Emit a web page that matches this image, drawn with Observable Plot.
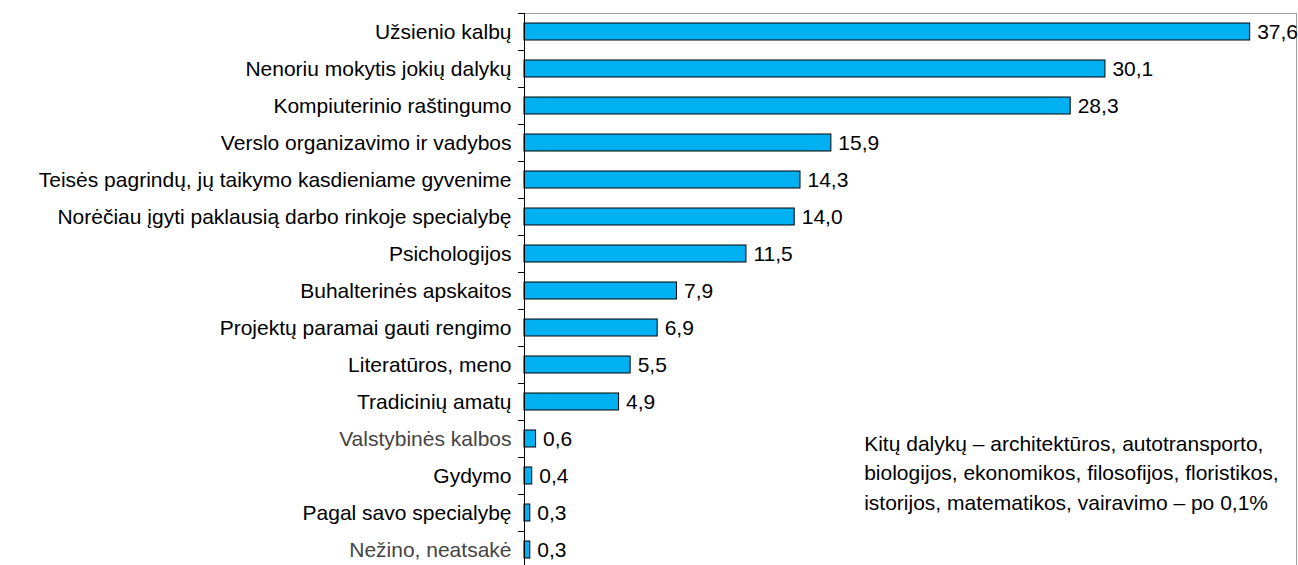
<!DOCTYPE html>
<html>
<head>
<meta charset="utf-8">
<script src="https://cdn.jsdelivr.net/npm/d3@7"></script>
<script src="https://cdn.jsdelivr.net/npm/@observablehq/plot@0.6"></script>
<style>
  html, body { margin: 0; padding: 0; background: #fff; overflow: hidden; }
  #chart svg { display: block; }
</style>
</head>
<body>
<div id="chart"></div>
<script>
const categories = [
  "Užsienio kalbų",
  "Nenoriu mokytis jokių dalykų",
  "Kompiuterinio raštingumo",
  "Verslo organizavimo ir vadybos",
  "Teisės pagrindų, jų taikymo kasdieniame gyvenime",
  "Norėčiau įgyti paklausią darbo rinkoje specialybę",
  "Psichologijos",
  "Buhalterinės apskaitos",
  "Projektų paramai gauti rengimo",
  "Literatūros, meno",
  "Tradicinių amatų",
  "Valstybinės kalbos",
  "Gydymo",
  "Pagal savo specialybę",
  "Nežino, neatsakė"
];
const values = [37.6, 30.1, 28.3, 15.9, 14.3, 14.0, 11.5, 7.9, 6.9, 5.5, 4.9, 0.6, 0.4, 0.3, 0.3];
const grayCategories = ["Valstybinės kalbos", "Nežino, neatsakė"];
const noteLines = [
  "Kitų dalykų – architektūros, autotransporto,",
  "biologijos, ekonomikos, filosofijos, floristikos,",
  "istorijos, matematikos, vairavimo – po 0,1%"
];
const noteX = 17.6;
const noteRow = "Gydymo";
const xMax = 40;

const data = categories.map((c, i) => ({category: c, value: values[i]}));
const fmt = v => v.toFixed(1).replace(".", ",");
const blackCategories = categories.filter(c => !grayCategories.includes(c));
const FS = 21;

const chart = Plot.plot({
  width: 1298,
  height: 565,
  marginLeft: 524,
  marginRight: 2,
  marginTop: 13,
  marginBottom: -3,
  style: {fontFamily: "'Liberation Sans', Arial, sans-serif", fontSize: FS + "px", color: "#000", background: "#fff"},
  x: {domain: [0, xMax], axis: null},
  y: {domain: categories, paddingInner: 0.55, paddingOuter: 0.275, axis: null, label: null},
  marks: [
    Plot.ruleX([xMax], {stroke: "#a0a0a0"}),
    Plot.ruleY([categories[0]], {x1: 0, x2: xMax, dy: -18.5, stroke: "#a0a0a0"}),
    Plot.barX(data, {x: "value", y: "category", fill: "#00b0f0", stroke: "#000", strokeWidth: 1}),
    Plot.text(data, {x: "value", y: "category", text: d => fmt(d.value), dx: 7, textAnchor: "start", fill: "#000", fontSize: FS}),
    Plot.axisY({ticks: blackCategories, tickSize: 0, tickPadding: 13, fontSize: FS, fill: "#000", label: null}),
    Plot.axisY({ticks: grayCategories, tickSize: 0, tickPadding: 13, fontSize: FS, fill: "#444", label: null}),
    Plot.axisY({tickSize: 6, tickFormat: () => "", dy: -18.5, stroke: "#000", label: null}),
    Plot.ruleX([0], {stroke: "#000"}),
    Plot.text([noteLines.join("\n")], {x: () => noteX, y: () => noteRow, textAnchor: "start", lineAnchor: "middle", lineHeight: 1.4, dy: -5, fontSize: FS, fill: "#000"})
  ]
});
document.getElementById("chart").appendChild(chart);
</script>
</body>
</html>
